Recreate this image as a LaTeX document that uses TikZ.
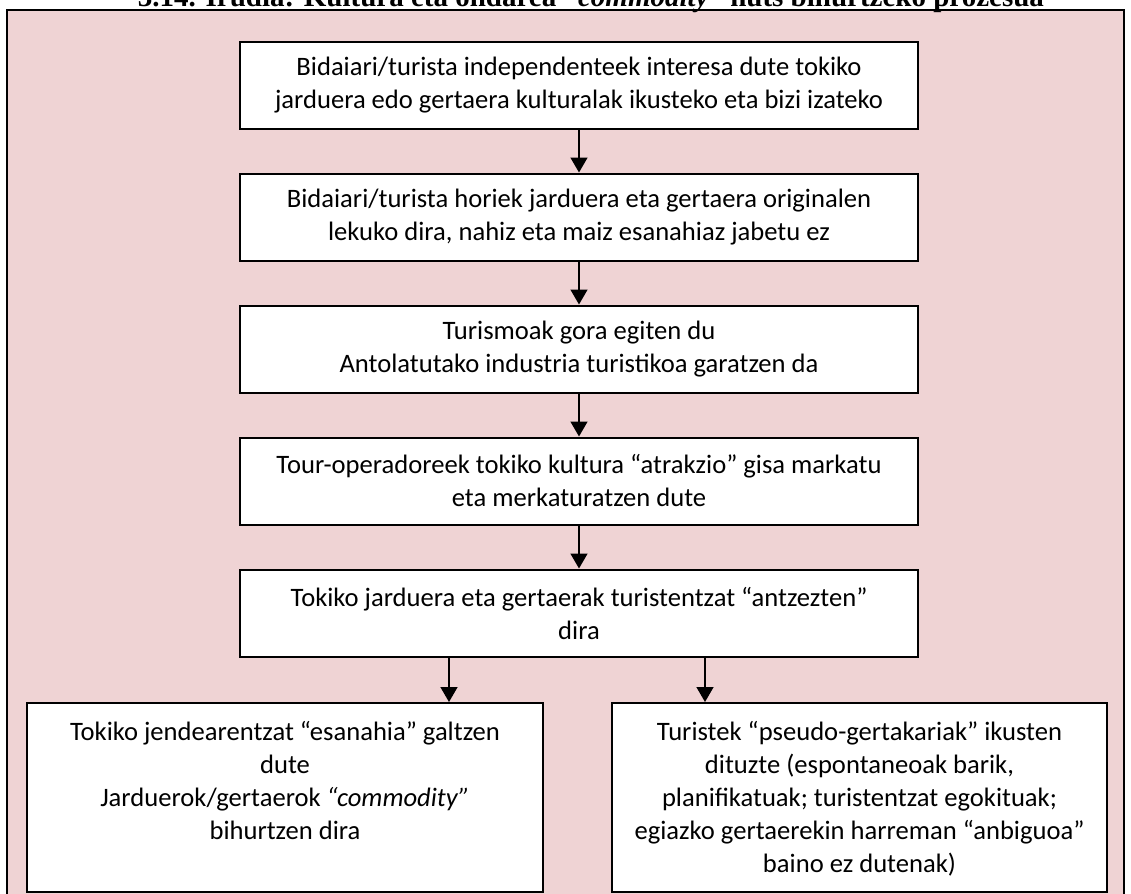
\documentclass[tikz,border=0pt]{standalone}
\usepackage{fontspec}
\setmainfont{Carlito}
\newfontfamily\titlefont{Liberation Serif}
\usetikzlibrary{arrows.meta}

\definecolor{framepink}{RGB}{239,211,212}
\tikzset{
	boxtext/.style={font=\fontsize{13.3}{16.5}\selectfont},
	stepbox/.style={boxtext, draw, line width=1pt, fill=white, minimum width=339pt, minimum height=43.5pt, align=center, inner sep=0pt},
	lowbox/.style={boxtext, draw, line width=1pt, fill=white, inner sep=0pt, anchor=north},
	arr/.style={-{Triangle[length=7.5pt,width=8.5pt]}, line width=0.75pt}
}

\begin{document}
\begin{tikzpicture}[x=0.5pt,y=-0.5pt]
		\def\cx{579};
		\def\dy{132};
		\def\lh{94.5pt};
	
		\useasboundingbox (0,0) rectangle (1131,894);
		\clip (0,0) rectangle (1131,894);
		\draw [line width=1pt, fill=framepink] (7,10) rectangle (1124,920);
		\node [anchor=base, font=\titlefont\bfseries\fontsize{14.5}{17}\selectfont] (title) at (591,6) {3.14. Irudia: Kultura eta ondarea \textit{“commodity”} huts bihurtzeko prozesua};
	
		\node [stepbox] (s1) at (\cx,85) {Bidaiari/turista independenteek interesa dute tokiko\\jarduera edo gertaera kulturalak ikusteko eta bizi izateko};
		\node [stepbox] (s2) at (\cx,{85+\dy}) {Bidaiari/turista horiek jarduera eta gertaera originalen\\lekuko dira, nahiz eta maiz esanahiaz jabetu ez};
		\node [stepbox] (s3) at (\cx,{85+2*\dy}) {Turismoak gora egiten du\\Antolatutako industria turistikoa garatzen da};
		\node [stepbox] (s4) at (\cx,{85+3*\dy}) {Tour-operadoreek tokiko kultura “atrakzio” gisa markatu\\eta merkaturatzen dute};
		\node [stepbox] (s5) at (\cx,{85+4*\dy}) {Tokiko jarduera eta gertaerak turistentzat “antzezten”\\dira};
	
		\node [lowbox] (lo) at (285,702) {\parbox[t][\lh][t]{258pt}{\centering\vspace*{9pt}Tokiko jendearentzat “esanahia” galtzen\\dute\\Jarduerok/gertaerok \textit{“commodity”}\\bihurtzen dira}};
		\node [lowbox] (ri) at (859.5,702) {\parbox[t][\lh][t]{247.5pt}{\centering\vspace*{9pt}Turistek “pseudo-gertakariak” ikusten\\dituzte (espontaneoak barik,\\planifikatuak; turistentzat egokituak;\\egiazko gertaerekin harreman “anbiguoa”\\baino ez dutenak)}};
	
		\draw [arr] (s1) -- (s2);
		\draw [arr] (s2) -- (s3);
		\draw [arr] (s3) -- (s4);
		\draw [arr] (s4) -- (s5);
		\draw [arr] ([xshift=-65pt]s5.south) -- ([xshift=-65pt]s5.south |- lo.north);
		\draw [arr] ([xshift=63pt]s5.south) -- ([xshift=63pt]s5.south |- ri.north);
	\end{tikzpicture}
\end{document}
